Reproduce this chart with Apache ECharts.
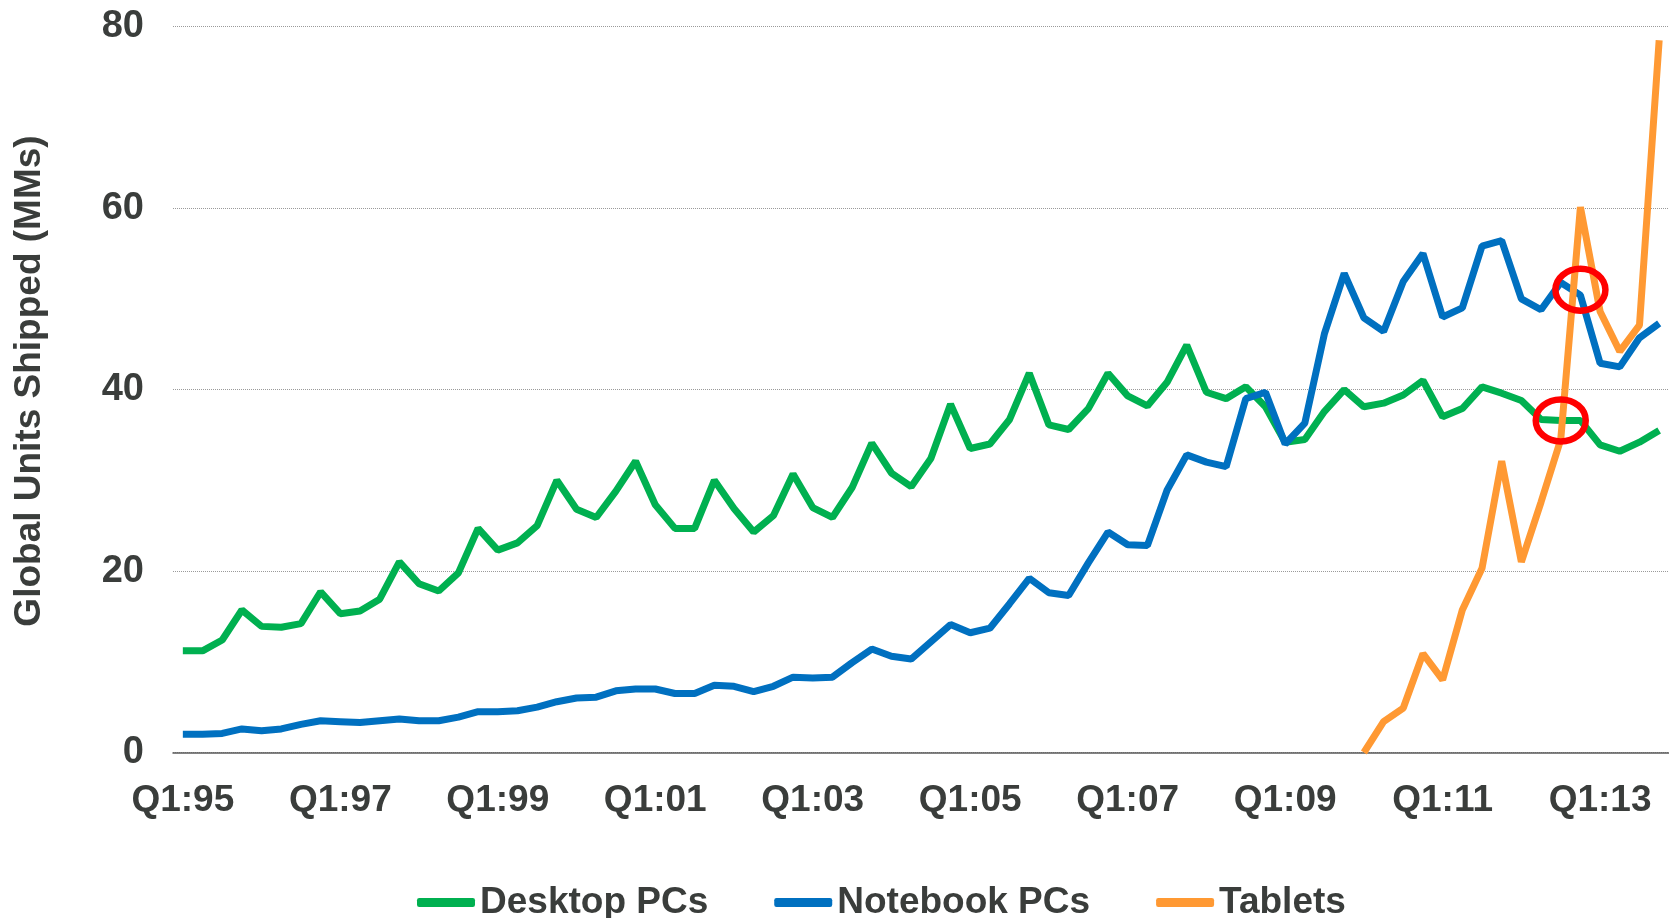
<!DOCTYPE html>
<html>
<head>
<meta charset="utf-8">
<script src="https://cdn.jsdelivr.net/npm/echarts@6/dist/echarts.min.js"></script>
<style>
  html, body { margin: 0; padding: 0; background: #fff; }
  #chart { width: 1669px; height: 918px; }
</style>
</head>
<body>
<div id="chart"></div>
<script>
// quarters Q1:95 .. Q4:13
const quarters = [
  'Q1:95', 'Q2:95', 'Q3:95', 'Q4:95', 'Q1:96', 'Q2:96', 'Q3:96', 'Q4:96',
  'Q1:97', 'Q2:97', 'Q3:97', 'Q4:97', 'Q1:98', 'Q2:98', 'Q3:98', 'Q4:98',
  'Q1:99', 'Q2:99', 'Q3:99', 'Q4:99', 'Q1:00', 'Q2:00', 'Q3:00', 'Q4:00',
  'Q1:01', 'Q2:01', 'Q3:01', 'Q4:01', 'Q1:02', 'Q2:02', 'Q3:02', 'Q4:02',
  'Q1:03', 'Q2:03', 'Q3:03', 'Q4:03', 'Q1:04', 'Q2:04', 'Q3:04', 'Q4:04',
  'Q1:05', 'Q2:05', 'Q3:05', 'Q4:05', 'Q1:06', 'Q2:06', 'Q3:06', 'Q4:06',
  'Q1:07', 'Q2:07', 'Q3:07', 'Q4:07', 'Q1:08', 'Q2:08', 'Q3:08', 'Q4:08',
  'Q1:09', 'Q2:09', 'Q3:09', 'Q4:09', 'Q1:10', 'Q2:10', 'Q3:10', 'Q4:10',
  'Q1:11', 'Q2:11', 'Q3:11', 'Q4:11', 'Q1:12', 'Q2:12', 'Q3:12', 'Q4:12',
  'Q1:13', 'Q2:13', 'Q3:13', 'Q4:13'
]

const desktop = [
  11.2, 11.2, 12.4, 15.7, 13.9, 13.8, 14.2, 17.7, 15.3, 15.6,
  16.9, 21.0, 18.6, 17.8, 19.8, 24.7, 22.3, 23.1, 25.0, 30.0,
  26.8, 25.9, 28.8, 32.1, 27.3, 24.7, 24.7, 30.0, 26.9, 24.3,
  26.1, 30.7, 27.0, 25.9, 29.2, 34.1, 30.8, 29.3, 32.4, 38.4,
  33.5, 34.0, 36.7, 41.8, 36.1, 35.6, 37.9, 41.8, 39.3, 38.2,
  40.8, 44.9, 39.7, 39.0, 40.3, 38.1, 34.2, 34.5, 37.6, 40.0,
  38.1, 38.5, 39.4, 41.0, 37.0, 37.9, 40.3, 39.6, 38.8, 36.7,
  36.6, 36.6, 33.9, 33.2, 34.2, 35.5
]

const notebook = [
  2.0, 2.0, 2.1, 2.6, 2.4, 2.6, 3.1, 3.5, 3.4, 3.3,
  3.5, 3.7, 3.5, 3.5, 3.9, 4.5, 4.5, 4.6, 5.0, 5.6,
  6.0, 6.1, 6.8, 7.0, 7.0, 6.5, 6.5, 7.4, 7.3, 6.7,
  7.3, 8.3, 8.2, 8.3, 9.9, 11.4, 10.6, 10.3, 12.2, 14.1,
  13.2, 13.7, 16.4, 19.2, 17.6, 17.3, 20.9, 24.3, 22.9, 22.8,
  28.9, 32.8, 32.0, 31.5, 39.0, 39.7, 34.0, 36.3, 46.2, 52.8,
  47.9, 46.4, 51.9, 55.0, 48.0, 49.0, 55.8, 56.4, 50.0, 48.8,
  51.8, 50.4, 42.9, 42.5, 45.7, 47.3
]

// tablets start Q1:10
const tablets = [
  null, null, null, null, null, null, null, null, null, null,
  null, null, null, null, null, null, null, null, null, null,
  null, null, null, null, null, null, null, null, null, null,
  null, null, null, null, null, null, null, null, null, null,
  null, null, null, null, null, null, null, null, null, null,
  null, null, null, null, null, null, null, null, null, null,
  0, 3.4, 4.9, 10.9, 8.0, 15.7, 20.3, 32.1, 21.0, 27.6,
  34.5, 60.1, 48.6, 44.2, 47.1, 78.5
]

// red highlight rings: [category index, value]
const highlights = [
  [70.5, 51.0],
  [70.1, 36.6]
]

const yTicks = { min: 0, max: 80, interval: 20 }

const FONT = '"Liberation Sans", Arial, sans-serif'
const TEXT = '#3a3d3b'

const chart = echarts.init(document.getElementById('chart'))

chart.setOption({
  animation: false,
  grid: {
    left: 173,
    right: -4,
    top: 26.6,
    bottom: 165.5,
    containLabel: false
  },
  graphic: [{
    type: 'text',
    x: 30,
    y: 381,
    rotation: Math.PI / 2,
    style: {
      text: 'Global Units Shipped (MMs)',
      font: 'bold 37px "Liberation Sans", Arial, sans-serif',
      fill: TEXT,
      align: 'center',
      verticalAlign: 'middle'
    }
  }],
  legend: {
    data: ['Desktop PCs', 'Notebook PCs', 'Tablets'],
    left: 417,
    top: 884,
    padding: 0,
    icon: 'roundRect',
    itemWidth: 58,
    itemHeight: 9,
    itemGap: 66,
    textStyle: {
      fontFamily: FONT,
      fontWeight: 'bold',
      fontSize: 37,
      color: TEXT
    }
  },
  xAxis: {
    type: 'category',
    data: quarters,
    boundaryGap: true,
    axisLine: {
      lineStyle: { color: '#5a5a5a', width: 1.5 }
    },
    axisTick: {
      interval: 0,
      length: 10,
      lineStyle: { color: '#7f7f7f', width: 1 }
    },
    axisLabel: {
      interval: 7,
      margin: 30,
      fontFamily: FONT,
      fontWeight: 'bold',
      fontSize: 37,
      color: TEXT
    },
    splitLine: { show: false }
  },
  yAxis: {
    type: 'value',
    min: yTicks.min,
    max: yTicks.max,
    interval: yTicks.interval,
    axisLine: { show: false },
    axisTick: { show: false },
    axisLabel: {
      margin: 29,
      fontFamily: FONT,
      fontWeight: 'bold',
      fontSize: 38,
      color: TEXT
    },
    splitLine: {
      lineStyle: { color: '#9a9a9a', width: 1, type: 'dotted' }
    }
  },
  series: [
    {
      name: 'Desktop PCs',
      type: 'line',
      data: desktop,
      symbol: 'none',
      color: '#00b050',
      lineStyle: { width: 7, color: '#00b050' }
    },
    {
      name: 'Notebook PCs',
      type: 'line',
      data: notebook,
      symbol: 'none',
      color: '#0070c0',
      lineStyle: { width: 7, color: '#0070c0' }
    },
    {
      name: 'Tablets',
      type: 'line',
      data: tablets,
      symbol: 'none',
      color: '#ff9933',
      lineStyle: { width: 7, color: '#ff9933' }
    },
    {
      name: 'highlight',
      type: 'custom',
      data: highlights,
      z: 10,
      silent: true,
      renderItem(params, api) {
        const p = api.coord([api.value(0), api.value(1)])
        return {
          type: 'ellipse',
          shape: { cx: p[0], cy: p[1], rx: 25, ry: 21 },
          style: { fill: 'none', stroke: '#ff0000', lineWidth: 6.5 }
        }
      }
    }
  ]
})
</script>
</body>
</html>
